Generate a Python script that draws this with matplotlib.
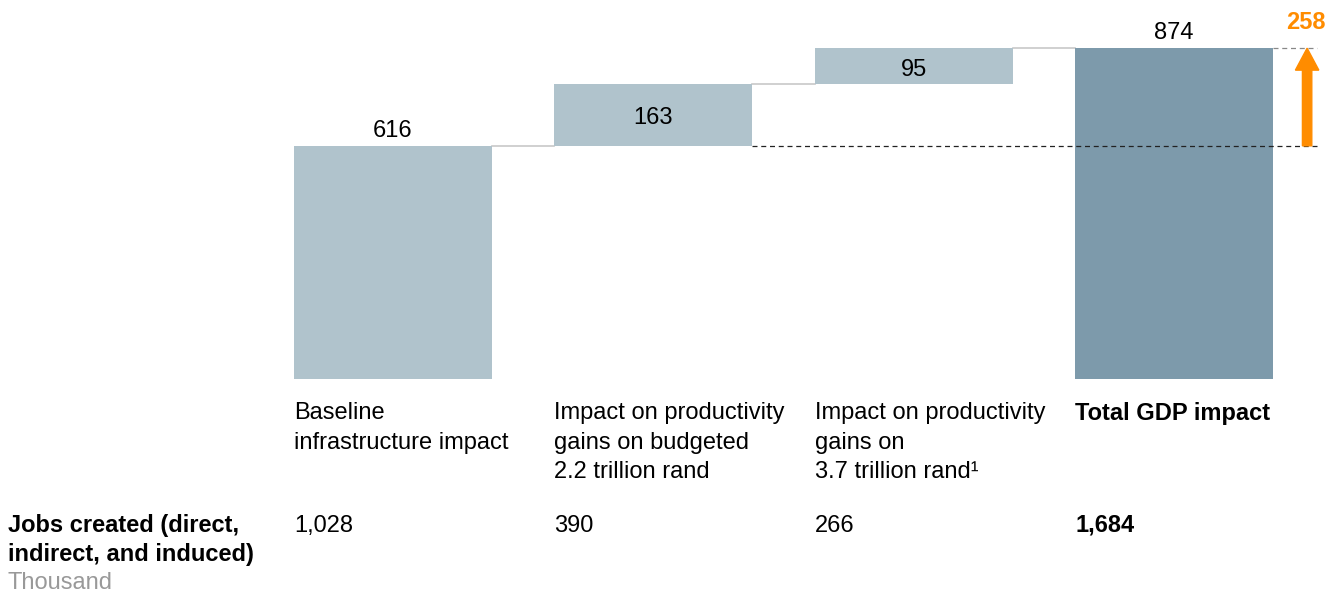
import matplotlib.pyplot as plt
from matplotlib.patches import FancyArrow

plt.rcParams['font.family'] = ['Liberation Sans', 'DejaVu Sans']

################################## DATA ##################################

categories = ['Baseline\ninfrastructure impact',
              'Impact on productivity\ngains on budgeted\n2.2 trillion rand',
              'Impact on productivity\ngains on\n3.7 trillion rand¹',
              'Total GDP impact']
values = [616, 163, 95, 874]
jobs = ['1,028', '390', '266', '1,684']
jobs_label = ['Jobs created (direct,', 'indirect, and induced)']
increase = 258

light = '#b0c3cc'
dark = '#7d9aab'
orange = '#ff8c00'
fs = 17

################################## PLOT ##################################

fig = plt.figure(figsize=(13.42, 5.95), dpi=100)
ax = fig.add_axes([0, 0, 1, 1])
ax.set_xlim(-1.5096, 3.645)
ax.set_ylim(-570.7, 1001.3)
ax.axis('off')

w = 0.76
bottoms = [0, values[0], values[0] + values[1], 0]
for i, (v, b) in enumerate(zip(values, bottoms)):
    col = dark if i == 3 else light
    ax.bar(i, v, bottom=b, width=w, color=col, edgecolor='none', zorder=2)

# value labels
ax.text(0, values[0] + 38, str(values[0]), ha='center', va='center', fontsize=fs)
ax.text(1, bottoms[1] + values[1] / 2 - 8, str(values[1]), ha='center', va='center', fontsize=fs)
ax.text(2, bottoms[2] + values[2] / 2 - 9, str(values[2]), ha='center', va='center', fontsize=fs)
ax.text(3, values[3] + 39, str(values[3]), ha='center', va='center', fontsize=fs)

# connector lines
tops = [values[0], values[0] + values[1], values[0] + values[1] + values[2]]
for i, t in enumerate(tops):
    ax.plot([i + w / 2, i + 1 - w / 2], [t, t], color='#c8c8c8', lw=1.2, zorder=1)

# dashed reference lines
ax.plot([1 + w / 2, 3.55], [values[0], values[0]], color='#222222', lw=0.9,
        ls=(0, (4, 3)), zorder=3)
ax.plot([3 + w / 2, 3.55], [values[3], values[3]], color='#888888', lw=0.9,
        ls=(0, (4, 3)), zorder=3)

# increase arrow
ax.add_patch(FancyArrow(3.511, values[0], 0, increase, width=0.036, head_width=0.09,
                        head_length=58, length_includes_head=True,
                        color=orange, zorder=4))
ax.text(3.505, 943, str(increase), ha='center', va='center',
        fontsize=fs, fontweight='bold', color=orange)

# category labels
for i, c in enumerate(categories):
    ax.text(i - w / 2, -61, c, ha='left', va='top', fontsize=fs,
            fontweight='bold' if i == 3 else 'normal', linespacing=1.45)

# jobs row
for i, j in enumerate(jobs):
    ax.text(i - w / 2, -404, j, ha='left', va='baseline', fontsize=fs,
            fontweight='bold' if i == 3 else 'normal')
for k, line in enumerate(jobs_label):
    ax.text(-1.479, -404 - 76.6 * k, line, ha='left', va='baseline',
            fontsize=fs, fontweight='bold')
ax.text(-1.479, -555, 'Thousand', ha='left', va='baseline', fontsize=fs, color='#999999')

plt.savefig('out.png', dpi=100)
